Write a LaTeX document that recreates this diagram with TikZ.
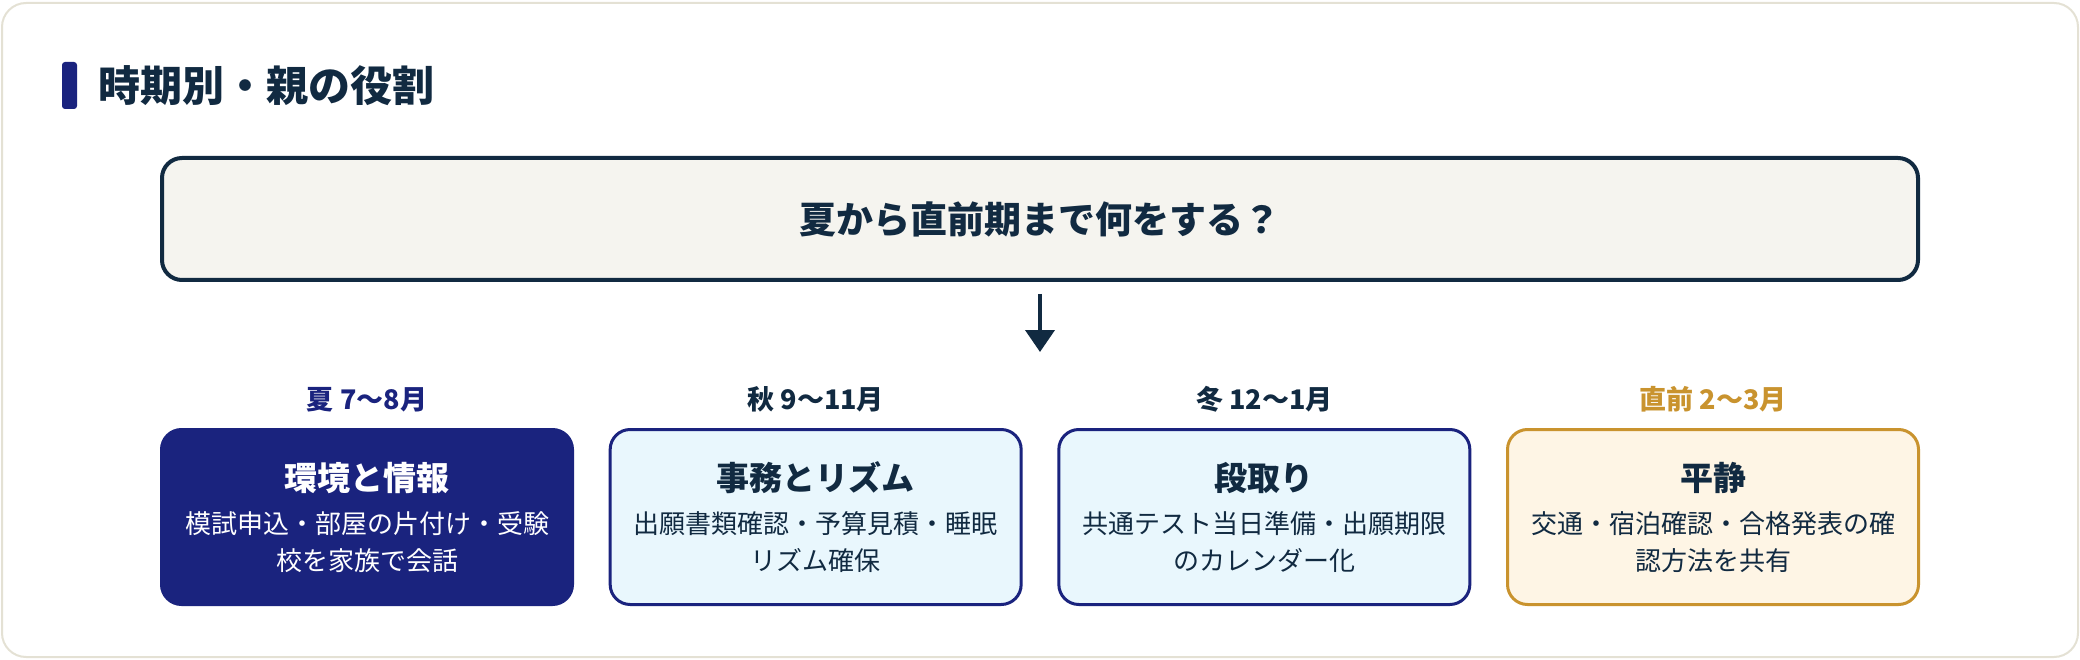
\documentclass[tikz,border=0pt]{standalone}
\usepackage{fontspec}
\setmainfont{Noto Sans CJK JP}
\usepackage{tikz}
\usetikzlibrary{positioning,arrows.meta}
\definecolor{navy}{HTML}{1A237E}
\definecolor{ink}{HTML}{112A41}
\definecolor{gold}{HTML}{C9932E}
\definecolor{paper}{HTML}{F5F4EF}
\definecolor{sky}{HTML}{E9F7FD}
\definecolor{cream}{HTML}{FEF5E5}
\definecolor{rim}{HTML}{E4E1D4}
\newcommand{\boxtitle}[1]{{\fontsize{33pt}{37pt}\selectfont\bfseries #1}\\[6pt]}
\tikzset{
    phasebox/.style={rounded corners=20pt,line width=3pt,minimum width=411pt,minimum height=175pt,inner sep=0pt,align=center,text width=400pt,font=\fontsize{26pt}{37pt}\selectfont},
    navybox/.style={phasebox,draw=navy,fill=navy,text=white},
    skybox/.style={phasebox,draw=navy,fill=sky,text=ink},
    creambox/.style={phasebox,draw=gold,fill=cream,text=ink},
    phaselabel/.style={inner sep=0pt,outer sep=0pt,font=\fontsize{27pt}{30pt}\selectfont\bfseries},
    askbox/.style={rounded corners=20pt,line width=4pt,draw=ink,fill=paper,text=ink,minimum width=1756pt,minimum height=122pt,font=\fontsize{37pt}{40pt}\selectfont\bfseries},
    headbar/.style={rounded corners=3pt,fill=navy,minimum width=15pt,minimum height=47pt,inner sep=0pt},
    heading/.style={inner sep=0pt,text=ink,font=\fontsize{42pt}{46pt}\selectfont\bfseries},
    flow/.style={-{Triangle[length=22pt,width=29pt]},line width=4pt,draw=ink,shorten <=12pt}
}
\begin{document}
\begin{tikzpicture}[x=1pt,y=-1pt,node distance=34.67pt]
\path[use as bounding box] (0,0) rectangle (2080,660);
\draw[rim,line width=2pt,fill=white,rounded corners=24pt] (2,3) rectangle (2078,657);

\node[headbar] (bar) at (69.5,85.5) {};
\node[heading,right=21pt of bar] (heading) {時期別・親の役割};

\node[askbox] (ask) at (1040,219) {夏から直前期まで何をする？};
\coordinate (tip) at (1040,352);

\node[navybox] (summer) at (367,517) {\boxtitle{環境と情報}模試申込・部屋の片付け・受験\\校を家族で会話};
\node[skybox,right=of summer] (autumn) {\boxtitle{事務とリズム}出願書類確認・予算見積・睡眠\\リズム確保};
\node[skybox,right=of autumn] (winter) {\boxtitle{段取り}共通テスト当日準備・出願期限\\のカレンダー化};
\node[creambox,right=of winter] (final) {\boxtitle{平静}交通・宿泊確認・合格発表の確\\認方法を共有};

\node[phaselabel,text=navy,above=16pt of summer] (summerlabel) {夏 7〜8月};
\node[phaselabel,text=ink,above=16pt of autumn] (autumnlabel) {秋 9〜11月};
\node[phaselabel,text=ink,above=16pt of winter] (winterlabel) {冬 12〜1月};
\node[phaselabel,text=gold,above=16pt of final] (finallabel) {直前 2〜3月};

\draw[flow] (ask) -- (tip);
\end{tikzpicture}
\end{document}
